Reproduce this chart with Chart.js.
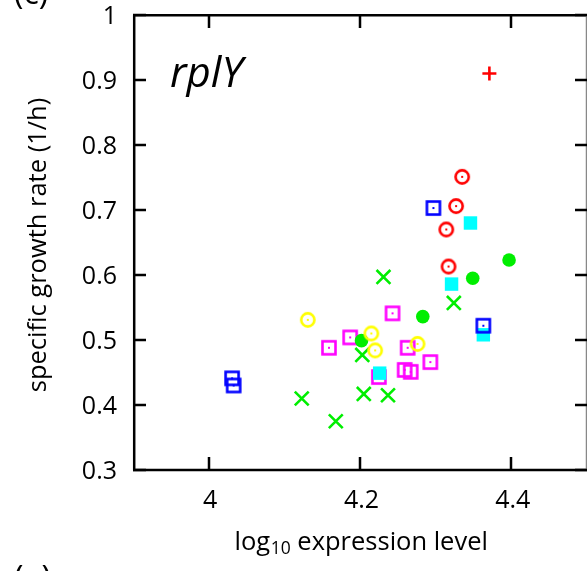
<!DOCTYPE html>
<html><head><meta charset="utf-8">
<script src="https://cdn.jsdelivr.net/npm/chart.js@4"></script>
<style>html,body{margin:0;padding:0;background:#fff}#wrap{width:587px;height:571px;position:relative}</style>
</head><body><div id="wrap"><canvas id="c" width="587" height="571"></canvas></div>
<script>
// ---- data ----
const xTicks = [4, 4.2, 4.4];
const yTicks = [0.3, 0.4, 0.5, 0.6, 0.7, 0.8, 0.9, 1];
const xTickLabels = ['4', '4.2', '4.4'];
const yTickLabels = ['0.3', '0.4', '0.5', '0.6', '0.7', '0.8', '0.9', '1'];

const redPlusX = [4.371];
const redPlusY = [0.910];
const redCircleX = [4.335, 4.327, 4.314, 4.317];
const redCircleY = [0.751, 0.706, 0.670, 0.613];
const blueSquareX = [4.297, 4.363, 4.031, 4.033];
const blueSquareY = [0.703, 0.522, 0.441, 0.430];
const cyanSquareX = [4.346, 4.321, 4.363, 4.226];
const cyanSquareY = [0.680, 0.586, 0.508, 0.449];
const greenDotX = [4.397, 4.349, 4.283, 4.202];
const greenDotY = [0.623, 0.595, 0.536, 0.499];
const greenCrossX = [4.231, 4.324, 4.203, 4.205, 4.237, 4.123, 4.168];
const greenCrossY = [0.597, 0.557, 0.477, 0.417, 0.415, 0.410, 0.375];
const magentaSquareX = [4.243, 4.187, 4.159, 4.263, 4.293, 4.259, 4.267, 4.225];
const magentaSquareY = [0.541, 0.504, 0.488, 0.488, 0.466, 0.454, 0.451, 0.443];
const yellowCircleX = [4.131, 4.215, 4.220, 4.276];
const yellowCircleY = [0.531, 0.510, 0.484, 0.494];

const geneName = 'rplY';
const xTitleMain = 'log';
const xTitleSub = '10';
const xTitleRest = ' expression level';
const yTitle = 'specific growth rate (1/h)';
const panelLabel = '(c)';
const nextPanelLabel = '(e)';

// ---- markers ----
function mk(w, draw) { const c = document.createElement('canvas'); c.width = w; c.height = w; const g = c.getContext('2d'); draw(g, w / 2); return c; }
const circDot = col => mk(20, (g, m) => { g.strokeStyle = col; g.lineWidth = 2.6; g.beginPath(); g.arc(m, m, 6.6, 0, 2 * Math.PI); g.stroke(); g.fillStyle = col; g.fillRect(m - 1, m - 1, 2, 2); });
const sqDot = col => mk(20, (g, m) => { g.strokeStyle = col; g.lineWidth = 2.6; g.strokeRect(m - 6.5, m - 6.5, 13, 13); g.fillStyle = col; g.fillRect(m - 1, m - 1, 2, 2); });

const pts = (xs, ys) => xs.map((x, i) => ({ x: x, y: ys[i] }));

const datasets = [
  { data: pts(redPlusX, redPlusY), pointStyle: 'cross', pointRadius: 7, borderColor: '#ff0000', pointBorderWidth: 2.6, backgroundColor: '#ff0000' },
  { data: pts(redCircleX, redCircleY), pointStyle: circDot('#ff0000'), pointRadius: 7 },
  { data: pts(blueSquareX, blueSquareY), pointStyle: sqDot('#0000ff'), pointRadius: 7 },
  { data: pts(cyanSquareX, cyanSquareY), pointStyle: 'rect', pointRadius: 9.5, backgroundColor: '#00ffff', borderColor: '#00ffff', pointBorderWidth: 0 },
  { data: pts(yellowCircleX, yellowCircleY), pointStyle: circDot('#ffff00'), pointRadius: 7 },
  { data: pts(greenDotX, greenDotY), pointStyle: 'circle', pointRadius: 6.8, backgroundColor: '#00ee00', borderColor: '#00ee00', pointBorderWidth: 0 },
  { data: pts(greenCrossX, greenCrossY), pointStyle: 'crossRot', pointRadius: 9.8, borderColor: '#00ee00', pointBorderWidth: 2.6 },
  { data: pts(magentaSquareX, magentaSquareY), pointStyle: sqDot('#ff00ff'), pointRadius: 7 }
];

const FONT = '"Open Sans", "DejaVu Sans", sans-serif';

const decor = {
  id: 'decor',
  afterDatasetsDraw(chart) {
    const g = chart.ctx, a = chart.chartArea, xs = chart.scales.x, ys = chart.scales.y;
    g.save();
    g.strokeStyle = '#000'; g.lineWidth = 2.5;
    // frame
    g.beginPath();
    g.moveTo(a.left + 1.2, a.top + 0.3); g.lineTo(a.left + 1.2, a.bottom);
    g.moveTo(a.left, a.bottom); g.lineTo(a.right, a.bottom);
    g.moveTo(a.left, a.top + 0.3); g.lineTo(a.right, a.top + 0.3);
    g.stroke();
    g.strokeStyle = '#888'; g.lineWidth = 1.5;
    g.beginPath(); g.moveTo(a.right - 0.5, a.top); g.lineTo(a.right - 0.5, a.bottom); g.stroke();
    // inward ticks
    g.strokeStyle = '#000'; g.lineWidth = 2.5;
    g.beginPath();
    xTicks.forEach(v => { const px = Math.round(xs.getPixelForValue(v)); g.moveTo(px, a.bottom); g.lineTo(px, a.bottom - 13); g.moveTo(px, a.top); g.lineTo(px, a.top + 13); });
    yTicks.forEach(v => { const py = ys.getPixelForValue(v); g.moveTo(a.left, py); g.lineTo(a.left + 13, py); g.moveTo(a.right, py); g.lineTo(a.right - 12, py); });
    g.stroke();
    // tick labels
    g.fillStyle = '#000';
    g.font = '25px ' + FONT;
    g.textAlign = 'center'; g.textBaseline = 'alphabetic';
    xTicks.forEach((v, i) => g.fillText(xTickLabels[i], xs.getPixelForValue(v) + 1.5, 508));
    g.textAlign = 'right';
    yTicks.forEach((v, i) => g.fillText(yTickLabels[i], 117, ys.getPixelForValue(v) + 9));
    // x title
    const f1 = '25.5px ' + FONT, f2 = '17.5px ' + FONT;
    g.font = f1; const w1 = g.measureText(xTitleMain).width, w3 = g.measureText(xTitleRest).width;
    g.font = f2; const w2 = g.measureText(xTitleSub).width;
    let x0 = 361 - (w1 + w2 + w3) / 2;
    g.textAlign = 'left';
    g.font = f1; g.fillText(xTitleMain, x0, 550);
    g.font = f2; g.fillText(xTitleSub, x0 + w1 + 0.5, 554);
    g.font = f1; g.fillText(xTitleRest, x0 + w1 + w2 + 0.5, 550);
    // y title
    g.save(); g.translate(46, 245); g.rotate(-Math.PI / 2);
    g.textAlign = 'center'; g.font = '25.5px ' + FONT; g.fillText(yTitle, 0, 0);
    g.restore();
    // gene name
    g.font = 'italic 42px ' + FONT; g.textAlign = 'left';
    g.fillText(geneName, 170, 87);
    // panel labels
    g.font = '32px ' + FONT;
    g.fillText(panelLabel, 14, 4);
    g.fillText(nextPanelLabel, 14, 589);
    g.restore();
  }
};

new Chart(document.getElementById('c'), {
  type: 'scatter',
  data: { datasets: datasets },
  options: {
    responsive: false, animation: false, devicePixelRatio: 1,
    layout: { padding: { top: 15, right: 0, left: 0, bottom: 0 }, autoPadding: false },
    plugins: { legend: { display: false }, tooltip: { enabled: false } },
    scales: {
      x: {
        type: 'linear', min: 3.9, max: 4.5,
        afterBuildTicks: s => { s.ticks = xTicks.map(v => ({ value: v })); },
        afterFit: s => { s.height = 101; },
        grid: { display: false, drawTicks: false }, border: { display: false },
        ticks: { display: false }
      },
      y: {
        type: 'linear', min: 0.3, max: 1,
        afterBuildTicks: s => { s.ticks = yTicks.map(v => ({ value: v })); },
        afterFit: s => { s.width = 133; },
        grid: { display: false, drawTicks: false }, border: { display: false },
        ticks: { display: false }
      }
    }
  },
  plugins: [decor]
});
</script>
</body></html>
